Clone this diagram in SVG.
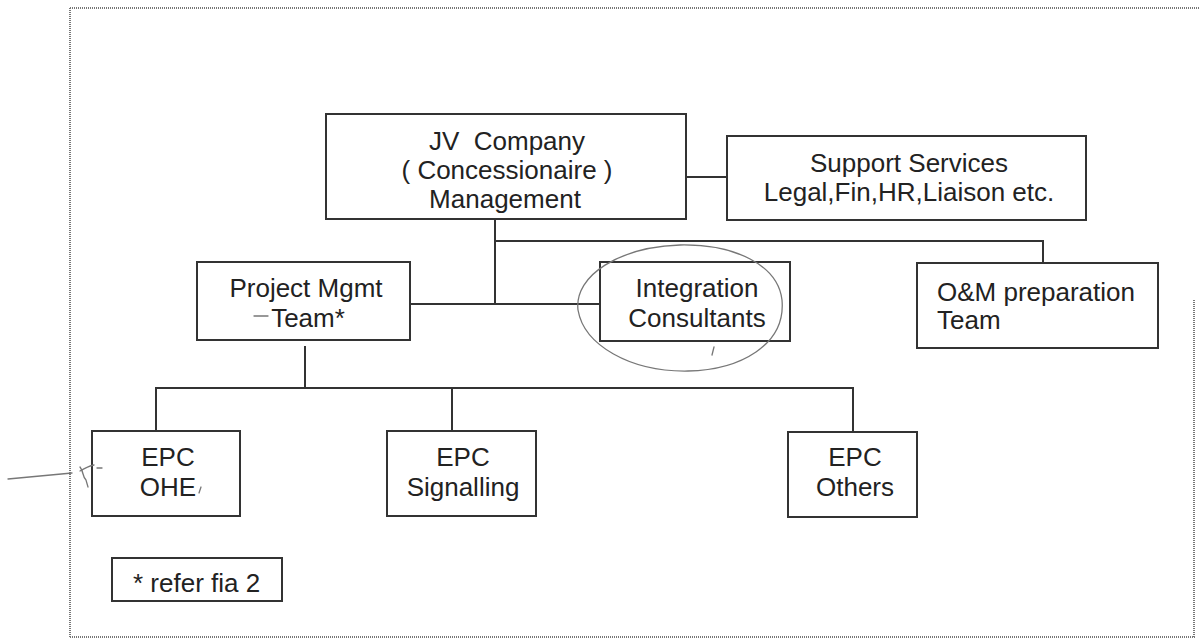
<svg xmlns="http://www.w3.org/2000/svg" width="1200" height="642" viewBox="0 0 1200 642">
  <style>
    .box { fill: #fff; stroke: #333; stroke-width: 2; }
    .link { fill: none; stroke: #333; stroke-width: 2; }
    .frame { fill: none; stroke: #777; stroke-width: 2; stroke-dasharray: 1 1; }
    .ink { fill: none; stroke: #777; stroke-width: 1.3; stroke-linecap: round; }
    text { font-family: "Liberation Sans", Arial, sans-serif; font-size: 26px; fill: #222; }
    .c { text-anchor: middle; }
  </style>

  <rect width="1200" height="642" fill="#fff"/>

  <!-- dotted page frame -->
  <g id="frame">
    <path class="frame" d="M70,8 H1200"/>
    <path class="frame" d="M70,8 V638"/>
    <path class="frame" d="M70,637 H1195"/>
    <path class="frame" d="M1194,300 V637"/>
  </g>

  <!-- connectors -->
  <g id="connectors">
    <path class="link" d="M686,177 H727"/>
    <path class="link" d="M495,219 V304"/>
    <path class="link" d="M495,241 H1043 V263"/>
    <path class="link" d="M410,304 H600"/>
    <path class="link" d="M305,346 V388"/>
    <path class="link" d="M155,388 H854" stroke-width="2.5"/>
    <path class="link" d="M156,388 V431"/>
    <path class="link" d="M452,388 V431"/>
    <path class="link" d="M853,388 V432"/>
  </g>

  <g id="jv-company">
    <rect class="box" x="326" y="114" width="360" height="105"/>
    <text class="c" x="507" y="150">JV&#160; Company</text>
    <text class="c" x="507" y="179">( Concessionaire )</text>
    <text class="c" x="505" y="208">Management</text>
  </g>

  <g id="support-services">
    <rect class="box" x="727" y="136" width="359" height="84"/>
    <text class="c" x="909" y="172">Support Services</text>
    <text class="c" x="909" y="201">Legal,Fin,HR,Liaison etc.</text>
  </g>

  <g id="project-mgmt">
    <rect class="box" x="197" y="262" width="213" height="78"/>
    <text class="c" x="306" y="297">Project Mgmt</text>
    <text class="c" x="308" y="327">Team*</text>
    <path class="ink" d="M254,316 H268" stroke="#aaa"/>
  </g>

  <g id="integration-consultants">
    <rect class="box" x="600" y="262" width="190" height="79"/>
    <text class="c" x="697" y="297">Integration</text>
    <text class="c" x="697" y="327">Consultants</text>
    <!-- pen circle around the box -->
    <path class="ink" d="M680,245 C735,244 778,265 782,300 C786,345 740,370 688,371 C630,372 584,345 578,310 C574,275 620,247 680,245 Z"/>
    <path class="ink" d="M714,347 L712,355"/>
  </g>

  <g id="om-preparation">
    <rect class="box" x="917" y="263" width="241" height="85"/>
    <text x="937" y="301">O&amp;M preparation</text>
    <text x="937" y="329">Team</text>
  </g>

  <g id="epc-ohe">
    <rect class="box" x="92" y="431" width="148" height="85"/>
    <text class="c" x="168" y="466">EPC</text>
    <text class="c" x="168" y="496">OHE</text>
    <path class="ink" d="M201,487 L199,493"/>
    <!-- pen mark at left edge -->
    <path class="ink" d="M8,479 L72,473"/>
    <path class="ink" d="M80,467 C84,472 82,476 86,480 L88,487"/>
    <path class="ink" d="M80,471 C85,468 89,466 94,465"/>
    <path class="ink" d="M97,468 H102"/>
  </g>

  <g id="epc-signalling">
    <rect class="box" x="387" y="431" width="149" height="85"/>
    <text class="c" x="463" y="466">EPC</text>
    <text class="c" x="463" y="496">Signalling</text>
  </g>

  <g id="epc-others">
    <rect class="box" x="788" y="432" width="129" height="85"/>
    <text class="c" x="855" y="466">EPC</text>
    <text class="c" x="855" y="496">Others</text>
  </g>

  <g id="footnote">
    <rect class="box" x="112" y="558" width="170" height="43"/>
    <text x="133" y="592">* refer fia 2</text>
  </g>
</svg>
